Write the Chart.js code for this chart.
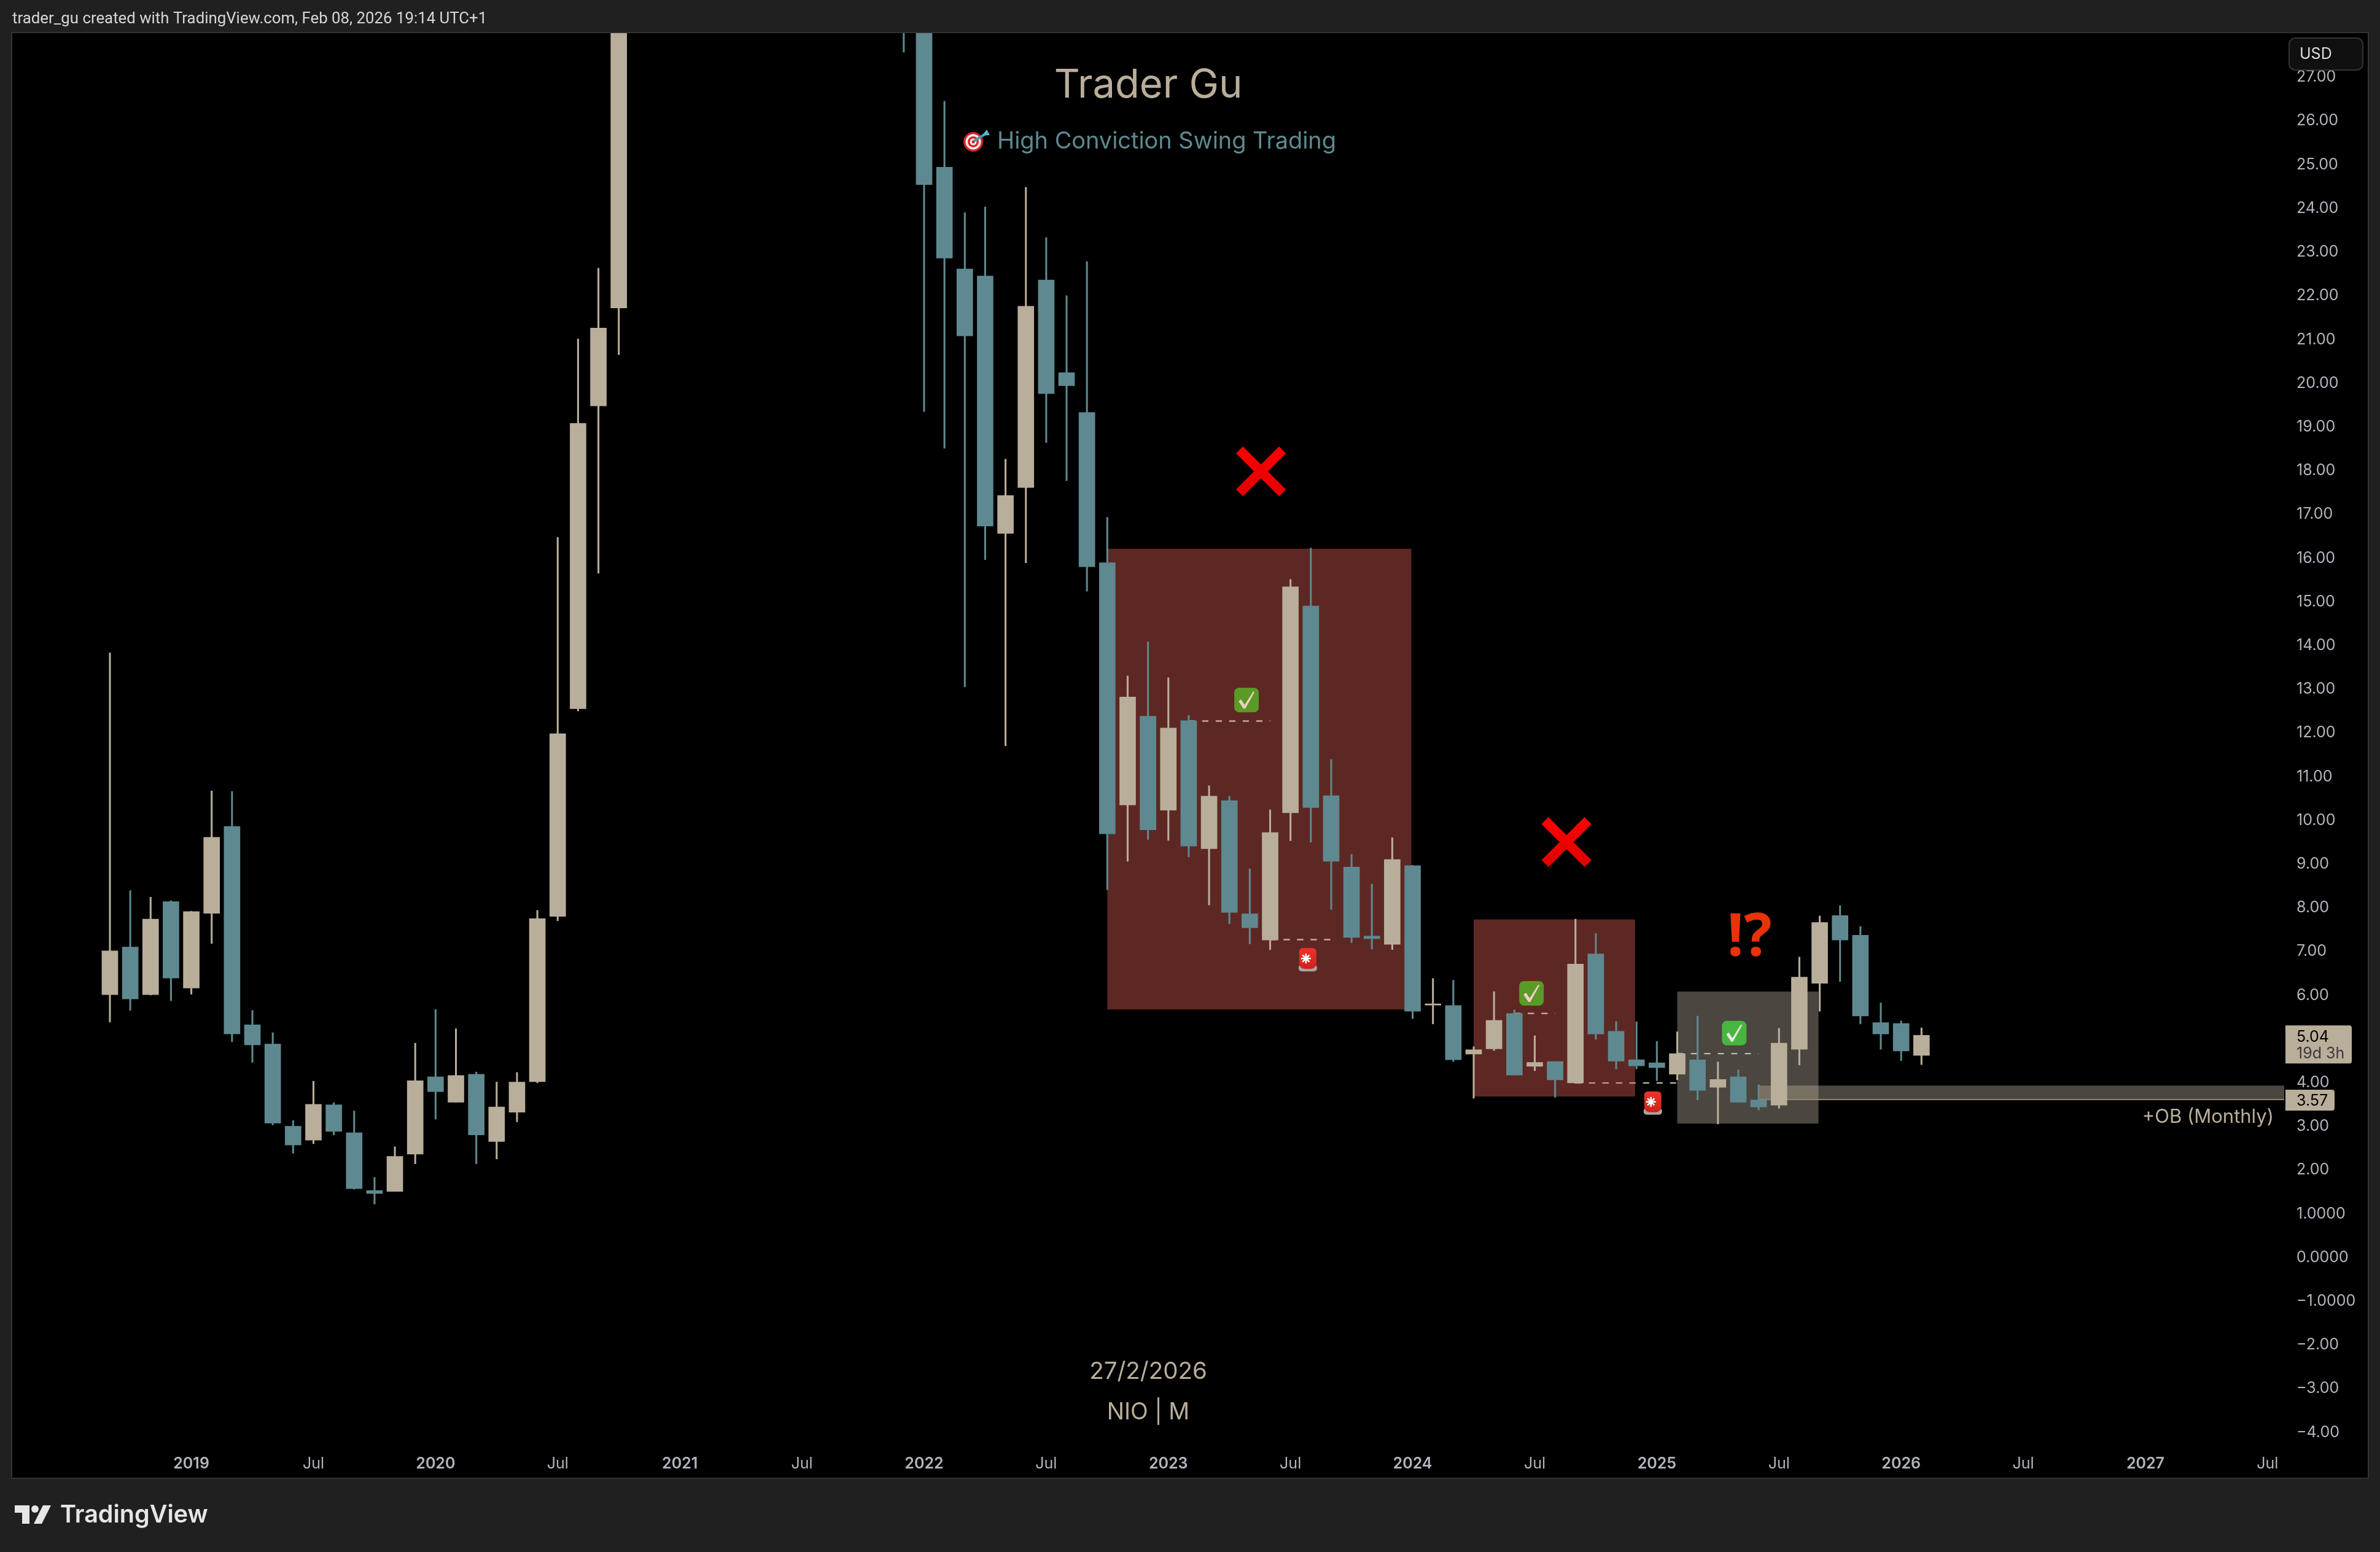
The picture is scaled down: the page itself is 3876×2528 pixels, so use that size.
<!DOCTYPE html>
<html>
<head>
<meta charset="utf-8">
<title>NIO monthly - Trader Gu</title>
<script src="https://cdn.jsdelivr.net/npm/chart.js@4/dist/chart.umd.min.js"></script>
<style>
  html, body { margin: 0; padding: 0; background: #202020; }
  canvas { display: block; }
</style>
</head>
<body>
<canvas id="nioChart" width="3876" height="2528"></canvas>
<script>
// monthly candles, index 0 = Sep 2018
// months 26-38 sit completely above the top of the pane, so they stay null
// the parts of 25, 39 and 40 above the pane are rough guesses
var opens = [5.97, 7.06, 5.97, 8.10, 6.12, 7.83, 9.82, 5.28, 4.84, 2.96, 2.64, 3.45, 2.81, 1.49, 1.47, 2.32, 4.09, 3.51, 4.15, 2.61, 3.28, 3.98, 7.76, 12.51, 19.44, 21.68,
  null, null, null, null, null, null, null, null, null, null, null, null, null,
  36.0, 31.7, 24.90, 22.57, 22.41, 16.52, 17.57, 22.32, 20.20, 19.29, 15.85, 10.31, 12.34, 10.19, 12.24, 9.31, 10.41, 7.82, 7.22, 10.13, 14.86, 10.52, 8.89, 7.31, 7.12, 8.92, 5.73, 5.72, 4.61, 4.73, 5.54, 4.33, 4.44, 3.95, 6.90, 5.13, 4.48, 4.41, 4.15, 4.48, 3.85, 4.09, 3.56, 3.44, 4.72, 6.23, 7.78, 7.33, 5.33, 5.31, 4.58];
var highs = [13.79, 8.35, 8.20, 8.12, 7.88, 10.63, 10.62, 5.61, 5.10, 3.09, 3.99, 3.50, 3.31, 1.79, 2.49, 4.86, 5.63, 5.19, 4.20, 3.97, 4.19, 7.90, 16.43, 20.97, 22.59, 33.0,
  null, null, null, null, null, null, null, null, null, null, null, null, null,
  38.0, 33.0, 26.41, 23.86, 23.99, 18.22, 24.44, 23.29, 21.96, 22.74, 16.89, 13.26, 14.04, 13.22, 12.36, 10.75, 10.51, 8.85, 10.20, 15.47, 16.19, 11.35, 9.18, 8.50, 9.56, 8.93, 6.34, 6.30, 4.78, 6.04, 5.62, 5.03, 4.44, 7.70, 7.37, 5.36, 5.35, 4.90, 5.12, 5.48, 4.43, 4.25, 3.91, 5.20, 6.83, 7.77, 8.01, 7.53, 5.78, 5.37, 5.21];
var lows = [5.34, 5.61, 5.96, 5.83, 5.98, 7.14, 4.89, 4.42, 2.99, 2.34, 2.56, 2.76, 1.52, 1.18, 1.47, 2.10, 3.12, 3.51, 2.10, 2.21, 3.06, 3.95, 7.66, 12.46, 15.61, 20.61,
  null, null, null, null, null, null, null, null, null, null, null, null, null,
  27.53, 19.31, 18.47, 13.01, 15.92, 11.66, 15.85, 18.60, 17.73, 15.20, 8.37, 9.02, 9.52, 9.50, 9.12, 8.02, 7.59, 7.13, 7.00, 9.49, 9.46, 7.92, 7.16, 7.01, 7.00, 5.42, 5.30, 4.44, 3.60, 4.69, 4.13, 4.23, 3.62, 3.94, 4.95, 4.27, 4.27, 4.00, 4.02, 3.56, 3.01, 3.51, 3.33, 3.37, 4.36, 5.59, 6.27, 5.30, 4.72, 4.46, 4.37];
var closes = [6.97, 5.87, 7.70, 6.35, 7.87, 9.57, 5.07, 4.82, 3.03, 2.53, 3.46, 2.84, 1.53, 1.42, 2.27, 4.00, 3.75, 4.12, 2.76, 3.40, 3.97, 7.71, 11.94, 19.04, 21.22, 30.6,
  null, null, null, null, null, null, null, null, null, null, null, null, null,
  31.7, 24.50, 22.82, 21.04, 16.69, 17.39, 21.72, 19.72, 19.90, 15.76, 9.65, 12.78, 9.74, 12.07, 9.37, 10.51, 7.85, 7.50, 9.68, 15.30, 10.25, 9.02, 7.28, 7.25, 9.06, 5.59, 5.76, 4.48, 4.71, 5.38, 4.13, 4.42, 4.02, 6.67, 5.07, 4.45, 4.34, 4.30, 4.62, 3.78, 4.03, 3.51, 3.40, 4.86, 6.37, 7.62, 7.22, 5.48, 5.07, 4.68, 5.04];

// axes
var timeTickMonths = [4, 10, 16, 22, 28, 34, 40, 46, 52, 58, 64, 70, 76, 82, 88, 94, 100, 106];
var timeTickLabels = ['2019', 'Jul', '2020', 'Jul', '2021', 'Jul', '2022', 'Jul', '2023', 'Jul', '2024', 'Jul', '2025', 'Jul', '2026', 'Jul', '2027', 'Jul'];
var priceTicks = [-4, -3, -2, -1, 0, 1, 2, 3, 4, 5, 6, 7, 8, 9, 10, 11, 12, 13, 14, 15, 16, 17, 18, 19, 20, 21, 22, 23, 24, 25, 26, 27];

// drawn zones and levels, month index and price
var redZoneStart = [49, 67];
var redZoneEnd = [63.94, 74.93];
var redZoneTop = [16.17, 7.69];
var redZoneBottom = [5.63, 3.64];
var greyZoneStart = [77];
var greyZoneEnd = [83.94];
var greyZoneTop = [6.04];
var greyZoneBottom = [3.02];
var dashStart = [53, 57, 69, 72, 77];
var dashEnd = [57, 60, 71, 77, 81];
var dashPrice = [12.23, 7.23, 5.54, 3.95, 4.62];
var obStart = 81, obTop = 3.89, obBottom = 3.57;
var lastPrice = 5.04;

// icon anchors, month index and price
var crossMonths = [56.55, 71.56];
var crossPrices = [17.94, 9.46];
var checkMonths = [55.84, 69.84, 79.8];
var checkPrices = [12.71, 6.0, 5.09];
var sirenMonths = [58.85, 75.8];
var sirenPrices = [6.77, 3.49];
var alertMonth = 80.55, alertPrice = 7.24;

var tan = '#b9ae9a';
var teal = '#5f8990';
var fontName = 'Inter, sans-serif';

var bodyPoints = [];
var wickPoints = [];
opens.forEach(function(o, i) {
  if (o === null) return;
  bodyPoints.push({ x: i, y: [o, closes[i]] });
  wickPoints.push({ x: i, y: [lows[i], highs[i]] });
});

function candleColor(ctx) {
  var i = ctx.raw ? ctx.raw.x : 0;
  return closes[i] >= opens[i] ? tan : teal;
}

function text(c, str, x, y, font, color, align) {
  c.font = font;
  c.fillStyle = color;
  c.textAlign = align || 'left';
  c.textBaseline = 'middle';
  c.fillText(str, x, y);
}

function rounded(c, x, y, w, h, r) {
  c.beginPath();
  c.roundRect(x, y, w, h, r);
}

function drawCross(c, x, y) {
  c.save();
  var g = c.createLinearGradient(0, y - 40, 0, y + 40);
  g.addColorStop(0, '#ff0000');
  g.addColorStop(1, '#e00000');
  c.strokeStyle = g;
  c.lineWidth = 16;
  c.beginPath();
  c.moveTo(x - 35, y - 35);
  c.lineTo(x + 35, y + 35);
  c.moveTo(x + 35, y - 35);
  c.lineTo(x - 35, y + 35);
  c.stroke();
  c.restore();
}

function drawCheck(c, x, y, box, mark) {
  c.save();
  c.fillStyle = box;
  rounded(c, x - 20, y - 20, 40, 40, 8);
  c.fill();
  c.fillStyle = mark;
  c.beginPath();
  c.moveTo(x - 13, y + 2);
  c.lineTo(x - 9, y - 1);
  c.lineTo(x - 3, y + 8);
  c.lineTo(x + 11, y - 14);
  c.lineTo(x + 13, y - 13);
  c.lineTo(x - 2, y + 14);
  c.lineTo(x - 5, y + 14);
  c.closePath();
  c.fill();
  c.restore();
}

function drawSiren(c, x, y) {
  c.save();
  c.fillStyle = '#a9a5a3';
  rounded(c, x - 15, y + 8, 30, 11, 5);
  c.fill();
  var g = c.createLinearGradient(0, y - 19, 0, y + 15);
  g.addColorStop(0, '#e8352b');
  g.addColorStop(1, '#cf211a');
  c.fillStyle = g;
  rounded(c, x - 14, y - 19, 28, 34, [6, 6, 9, 9]);
  c.fill();
  c.strokeStyle = '#ffffff';
  c.lineWidth = 2.5;
  c.beginPath();
  for (var a = 0; a < 4; a++) {
    var dx = Math.cos(a * Math.PI / 4) * 8;
    var dy = Math.sin(a * Math.PI / 4) * 8;
    c.moveTo(x - 3 - dx, y - 2 - dy);
    c.lineTo(x - 3 + dx, y - 2 + dy);
  }
  c.stroke();
  c.restore();
}

function drawTarget(c, x, y) {
  c.save();
  var colors = ['#d8232a', '#f4f1ee', '#d8232a', '#f4f1ee', '#d8232a'];
  var radii = [16, 12.5, 9, 5.5, 2.5];
  radii.forEach(function(r, i) {
    c.fillStyle = colors[i];
    c.beginPath();
    c.arc(x, y, r, 0, Math.PI * 2);
    c.fill();
  });
  c.strokeStyle = '#4b97a8';
  c.lineWidth = 4;
  c.beginPath();
  c.moveTo(x + 1, y - 1);
  c.lineTo(x + 20, y - 13);
  c.stroke();
  c.fillStyle = '#58b6c6';
  c.beginPath();
  c.moveTo(x + 14, y - 10);
  c.lineTo(x + 22, y - 20);
  c.lineTo(x + 27, y - 11);
  c.closePath();
  c.fill();
  c.restore();
}

function drawLogo(c, x, y) {
  c.save();
  c.fillStyle = '#e6e6e6';
  c.fillRect(x, y, 24, 12);
  c.fillRect(x + 12, y, 12, 30);
  c.beginPath();
  c.arc(x + 33, y + 6, 6, 0, Math.PI * 2);
  c.fill();
  c.beginPath();
  c.moveTo(x + 46, y);
  c.lineTo(x + 59, y);
  c.lineTo(x + 44, y + 30);
  c.lineTo(x + 31, y + 30);
  c.closePath();
  c.fill();
  c.restore();
}

function drawDashes(c, x, y, color) {
  c.lineWidth = 2;
  c.setLineDash([10, 12]);
  c.strokeStyle = color;
  dashStart.forEach(function(s, i) {
    var py = y.getPixelForValue(dashPrice[i]);
    c.beginPath();
    c.moveTo(x.getPixelForValue(s), py);
    c.lineTo(x.getPixelForValue(dashEnd[i]), py);
    c.stroke();
  });
  c.setLineDash([]);
}

// page frame, zones, notes and price labels around the candles
var tvChrome = {
  id: 'tvChrome',
  beforeDraw: function(chart) {
    var c = chart.ctx;
    c.save();
    c.fillStyle = '#202020';
    c.fillRect(0, 0, chart.width, chart.height);
    c.fillStyle = '#000000';
    c.fillRect(20, 54, 3836, 2353);
    c.strokeStyle = '#333333';
    c.lineWidth = 2;
    c.strokeRect(19, 53, 3838, 2355);
    text(c, 'trader_gu created with TradingView.com, Feb 08, 2026 19:14 UTC+1', 20, 32, '25.8px Roboto, sans-serif', '#d6d6d6');
    drawLogo(c, 24, 2452);
    text(c, 'TradingView', 98, 2468, '600 39.5px ' + fontName, '#e6e6e6');
    c.restore();

    // digits sit a little low in the price labels of the reference
    chart.scales.y.getLabelItems().forEach(function(item) {
      item.options.translation[1] += 3;
    });
  },
  beforeDatasetsDraw: function(chart) {
    var c = chart.ctx, x = chart.scales.x, y = chart.scales.y, area = chart.chartArea;
    c.save();
    c.beginPath();
    c.rect(area.left, area.top, area.right - area.left, area.bottom - area.top);
    c.clip();

    c.fillStyle = '#5d2823';
    redZoneStart.forEach(function(s, i) {
      var top = y.getPixelForValue(redZoneTop[i]);
      c.fillRect(x.getPixelForValue(s), top, x.getPixelForValue(redZoneEnd[i]) - x.getPixelForValue(s), y.getPixelForValue(redZoneBottom[i]) - top);
    });
    c.fillStyle = '#4b463f';
    greyZoneStart.forEach(function(s, i) {
      var top = y.getPixelForValue(greyZoneTop[i]);
      c.fillRect(x.getPixelForValue(s), top, x.getPixelForValue(greyZoneEnd[i]) - x.getPixelForValue(s), y.getPixelForValue(greyZoneBottom[i]) - top);
    });

    drawDashes(c, x, y, '#cfc5b2');
    // same dashes look pink where they cross a red zone
    redZoneStart.forEach(function(s, i) {
      c.save();
      var top = y.getPixelForValue(redZoneTop[i]);
      c.beginPath();
      c.rect(x.getPixelForValue(s), top, x.getPixelForValue(redZoneEnd[i]) - x.getPixelForValue(s), y.getPixelForValue(redZoneBottom[i]) - top);
      c.clip();
      drawDashes(c, x, y, '#cf9f8e');
      c.restore();
    });

    // order block runs to the right edge of the pane
    var obLeft = x.getPixelForValue(obStart);
    var obY = y.getPixelForValue(obTop);
    var obY2 = y.getPixelForValue(obBottom);
    c.fillStyle = 'rgba(185, 174, 154, 0.4)';
    c.fillRect(obLeft, obY, area.right - obLeft, obY2 - obY);
    c.fillStyle = '#8f8675';
    c.fillRect(obLeft, obY2 - 1, area.right - obLeft, 2);
    c.restore();
  },
  afterDatasetsDraw: function(chart) {
    var c = chart.ctx, x = chart.scales.x, y = chart.scales.y, area = chart.chartArea;
    var mid = (area.left + area.right) / 2;
    c.save();

    crossMonths.forEach(function(m, i) {
      drawCross(c, x.getPixelForValue(m), y.getPixelForValue(crossPrices[i]));
    });
    checkMonths.forEach(function(m, i) {
      var grey = i === 2;
      drawCheck(c, x.getPixelForValue(m), y.getPixelForValue(checkPrices[i]), grey ? '#47b540' : '#5a9a26', grey ? '#e8e6e0' : '#f5cfc4');
    });
    sirenMonths.forEach(function(m, i) {
      drawSiren(c, x.getPixelForValue(m), y.getPixelForValue(sirenPrices[i]));
    });
    text(c, '!?', x.getPixelForValue(alertMonth), y.getPixelForValue(alertPrice), '700 96px "Liberation Sans Narrow", "Open Sans", sans-serif', '#e8320a', 'center');

    text(c, 'Trader Gu', mid, 139, '65px ' + fontName, tan, 'center');
    drawTarget(c, 1585, 231);
    text(c, 'High Conviction Swing Trading', 1624, 231, '37.9px ' + fontName, teal);
    text(c, '27/2/2026', mid, 2234, '38.5px ' + fontName, tan, 'center');
    text(c, 'NIO | M', mid, 2301, '37.5px ' + fontName, tan, 'center');
    text(c, '+OB (Monthly)', 3703, 1820, '31px ' + fontName, tan, 'right');
    c.restore();
  },
  afterDraw: function(chart) {
    var c = chart.ctx, y = chart.scales.y;
    c.save();

    // USD button sits over the 27.00 label
    c.fillStyle = '#101010';
    c.strokeStyle = '#333333';
    c.lineWidth = 2;
    rounded(c, 3728, 62, 120, 52, 10);
    c.fill();
    c.stroke();
    text(c, 'USD', 3745, 88, '25px ' + fontName, '#dcdcdc');

    var lastY = y.getPixelForValue(lastPrice);
    c.fillStyle = tan;
    rounded(c, 3722, lastY - 16, 108, 62, [0, 4, 4, 0]);
    c.fill();
    text(c, lastPrice.toFixed(2), 3740, lastY + 3, '25px ' + fontName, '#000000');
    text(c, '19d 3h', 3740, lastY + 30, '25px ' + fontName, '#3a3a3a');

    var obY = y.getPixelForValue(obBottom);
    c.fillStyle = tan;
    rounded(c, 3722, obY - 16, 80, 34, [0, 4, 4, 0]);
    c.fill();
    text(c, obBottom.toFixed(2), 3740, obY + 2, '25px ' + fontName, '#000000');
    c.restore();
  }
};

var nioChart = new Chart(document.getElementById('nioChart').getContext('2d'), {
  type: 'bar',
  data: {
    datasets: [
      { label: 'Body', data: bodyPoints, backgroundColor: candleColor, barThickness: 26, grouped: false },
      { label: 'Wick', data: wickPoints, backgroundColor: candleColor, barThickness: 2.4, grouped: false }
    ]
  },
  options: {
    responsive: false,
    animation: false,
    devicePixelRatio: 1,
    layout: { padding: { left: 20, top: 54, right: 20, bottom: 121 } },
    plugins: { legend: { display: false }, tooltip: { enabled: false } },
    scales: {
      x: {
        type: 'linear',
        offset: false,
        min: -4.796,
        max: 106.82,
        grid: { display: false, drawTicks: false, offset: false },
        border: { display: false },
        afterBuildTicks: function(scale) {
          scale.ticks = timeTickMonths.map(function(m) { return { value: m }; });
        },
        afterFit: function(scale) { scale.height = 49; },
        ticks: {
          autoSkip: false,
          maxRotation: 0,
          padding: 11,
          color: '#b2b5be',
          callback: function(value) {
            return timeTickLabels[timeTickMonths.indexOf(value)];
          },
          font: function(ctx) {
            var isYear = ctx.tick && timeTickLabels[timeTickMonths.indexOf(ctx.tick.value)] !== 'Jul';
            return { family: fontName, size: 25, weight: isYear ? '600' : '400' };
          }
        }
      },
      y: {
        position: 'right',
        min: -4.393,
        max: 27.966,
        grid: { display: false, drawTicks: false },
        border: { display: false },
        afterBuildTicks: function(scale) {
          scale.ticks = priceTicks.map(function(v) { return { value: v }; });
        },
        afterFit: function(scale) { scale.width = 136; },
        ticks: {
          autoSkip: false,
          padding: 20,
          color: '#b2b5be',
          font: { family: fontName, size: 25 },
          callback: function(value) {
            var digits = Math.abs(value) <= 1 ? 4 : 2;
            return value.toFixed(digits).replace('-', '\u2212');
          }
        }
      }
    }
  },
  plugins: [tvChrome]
});
</script>
</body>
</html>
